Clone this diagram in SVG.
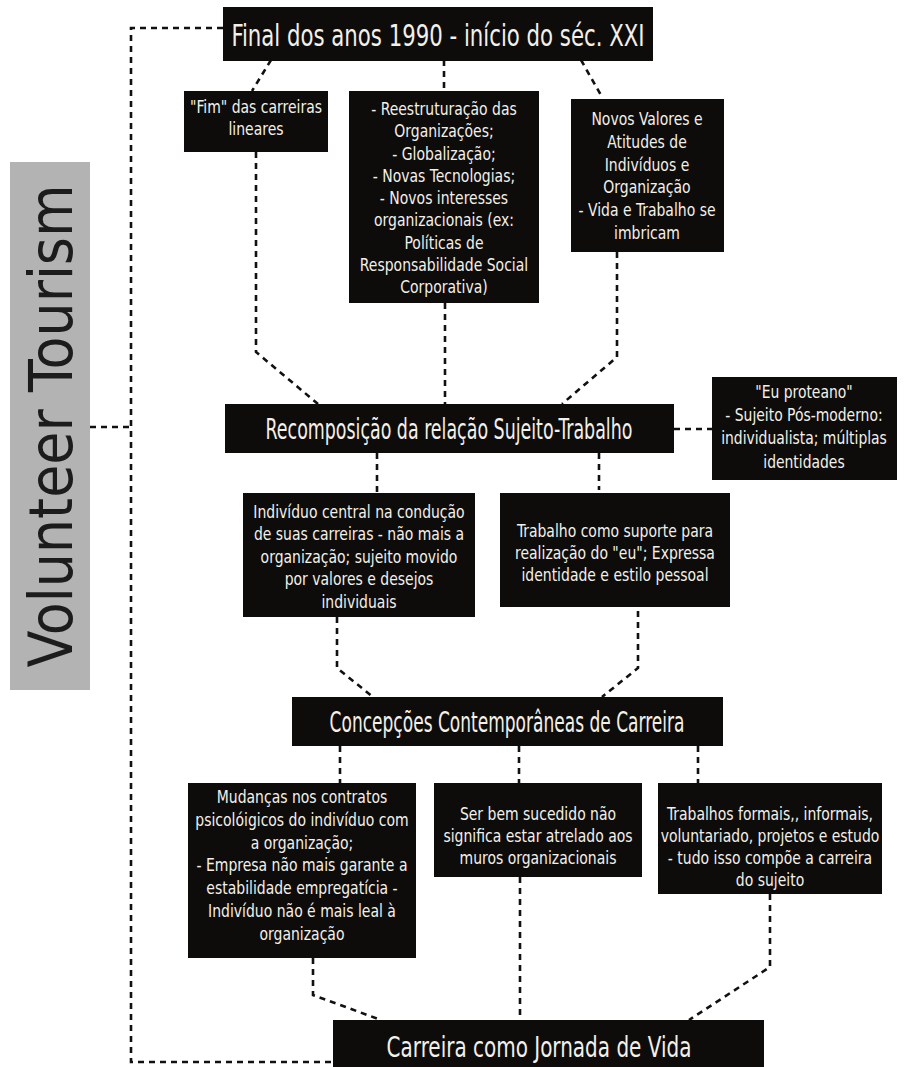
<svg xmlns="http://www.w3.org/2000/svg" width="911" height="1067" viewBox="0 0 911 1067">
<style>
.box{fill:#0e0c0b}
.t{font-family:"DejaVu Sans Condensed","Liberation Sans Narrow","Liberation Sans",sans-serif;font-stretch:condensed;font-size:18.5px;fill:#f3f0ea;text-anchor:middle}
.big{font-size:28px}
.con{fill:none;stroke:#111;stroke-width:2.6;stroke-dasharray:6 5}
</style>
<rect width="911" height="1067" fill="#ffffff"/>
<g id="connectors">
<path class="con" d="M223 28 H131 V1062 H333"/>
<path class="con" d="M90 427 H131"/>
<path class="con" d="M271 60 L252 91"/>
<path class="con" d="M444 60 V91"/>
<path class="con" d="M581 60 L602 97"/>
<path class="con" d="M256 152 V352 L318 404"/>
<path class="con" d="M445 303 V404"/>
<path class="con" d="M617 252 V357 L562 404"/>
<path class="con" d="M674 429 H712"/>
<path class="con" d="M377 453 V493"/>
<path class="con" d="M599 453 V490"/>
<path class="con" d="M337 617 V668 L373 697"/>
<path class="con" d="M638 611 V668 L602 697"/>
<path class="con" d="M340 746 V783"/>
<path class="con" d="M519 746 V783"/>
<path class="con" d="M698 746 V783"/>
<path class="con" d="M313 958 V995 L381 1020"/>
<path class="con" d="M520 877 V1020"/>
<path class="con" d="M770 894 V967 L689 1020"/>
</g>
<g id="volunteer">
<rect x="10" y="162" width="80" height="528" fill="#b3b3b3"/>
<text transform="translate(72 426) rotate(-90)" text-anchor="middle" font-family="DejaVu Sans Condensed,sans-serif" font-weight="300" font-size="60" fill="#1c1c1c" textLength="483" lengthAdjust="spacingAndGlyphs">Volunteer Tourism</text>
</g>
<g id="title">
<rect class="box" x="223" y="7" width="430" height="54"/>
<text class="t" x="438" y="46" style="font-size:30px" transform="matrix(0.73 0 0 1 118.26 0)" textLength="566" lengthAdjust="spacingAndGlyphs">Final dos anos 1990 - início do séc. XXI</text>
</g>
<g id="fim">
<rect class="box" x="184" y="91" width="144" height="61"/>
<text class="t" x="256" y="113" transform="matrix(0.84 0 0 1 40.96 0)"><tspan x="256">"Fim" das carreiras</tspan><tspan x="256" dy="22">lineares</tspan></text>
</g>
<g id="reestruturacao">
<rect class="box" x="349" y="91" width="190" height="212"/>
<text class="t" x="444" y="115" transform="matrix(0.84 0 0 1 71.04 0)"><tspan x="444">- Reestruturação das</tspan><tspan x="444" dy="22.3">Organizações;</tspan><tspan x="444" dy="22.3">- Globalização;</tspan><tspan x="444" dy="22.3">- Novas Tecnologias;</tspan><tspan x="444" dy="22.3">- Novos interesses</tspan><tspan x="444" dy="22.3">organizacionais (ex:</tspan><tspan x="444" dy="22.3">Políticas de</tspan><tspan x="444" dy="22.3">Responsabilidade Social</tspan><tspan x="444" dy="22.3">Corporativa)</tspan></text>
</g>
<g id="novos-valores">
<rect class="box" x="571" y="99" width="153" height="153"/>
<text class="t" x="647" y="125" transform="matrix(0.84 0 0 1 103.52 0)"><tspan x="647">Novos Valores e</tspan><tspan x="647" dy="22.8">Atitudes de</tspan><tspan x="647" dy="22.8">Indivíduos e</tspan><tspan x="647" dy="22.8">Organização</tspan><tspan x="647" dy="22.8">- Vida e Trabalho se</tspan><tspan x="647" dy="22.8">imbricam</tspan></text>
</g>
<g id="recomposicao">
<rect class="box" x="225" y="404" width="449" height="49"/>
<text class="t big" x="449" y="439" transform="matrix(0.7 0 0 1 134.7 0)" textLength="524" lengthAdjust="spacingAndGlyphs">Recomposição da relação Sujeito-Trabalho</text>
</g>
<g id="eu-proteano">
<rect class="box" x="712" y="377" width="185" height="103"/>
<text class="t" x="804" y="398" style="font-size:18px" transform="matrix(0.86 0 0 1 112.56 0)"><tspan x="804">"Eu proteano"</tspan><tspan x="804" dy="23.2">- Sujeito Pós-moderno:</tspan><tspan x="804" dy="23.2">individualista; múltiplas</tspan><tspan x="804" dy="23.2">identidades</tspan></text>
</g>
<g id="individuo-central">
<rect class="box" x="243" y="493" width="232" height="124"/>
<text class="t" x="359" y="518" transform="matrix(0.84 0 0 1 57.44 0)"><tspan x="359">Indivíduo central na condução</tspan><tspan x="359" dy="22.5">de suas carreiras - não mais a</tspan><tspan x="359" dy="22.5">organização; sujeito movido</tspan><tspan x="359" dy="22.5">por valores e desejos</tspan><tspan x="359" dy="22.5">individuais</tspan></text>
</g>
<g id="trabalho-suporte">
<rect class="box" x="500" y="493" width="230" height="114"/>
<text class="t" x="615" y="537" transform="matrix(0.84 0 0 1 98.4 0)"><tspan x="615">Trabalho como suporte para</tspan><tspan x="615" dy="22">realização do "eu"; Expressa</tspan><tspan x="615" dy="22">identidade e estilo pessoal</tspan></text>
</g>
<g id="concepcoes">
<rect class="box" x="292" y="697" width="431" height="49"/>
<text class="t big" x="507" y="732" transform="matrix(0.73 0 0 1 136.89 0)" textLength="486" lengthAdjust="spacingAndGlyphs">Concepções Contemporâneas de Carreira</text>
</g>
<g id="mudancas">
<rect class="box" x="188" y="783" width="228" height="175"/>
<text class="t" x="302" y="803" transform="matrix(0.84 0 0 1 48.32 0)"><tspan x="302">Mudanças nos contratos</tspan><tspan x="302" dy="22.8">psicolóigicos do indivíduo com</tspan><tspan x="302" dy="22.8">a organização;</tspan><tspan x="302" dy="22.8">- Empresa não mais garante a</tspan><tspan x="302" dy="22.8">estabilidade empregatícia -</tspan><tspan x="302" dy="22.8">Indivíduo não é mais leal à</tspan><tspan x="302" dy="22.8">organização</tspan></text>
</g>
<g id="ser-bem-sucedido">
<rect class="box" x="434" y="783" width="208" height="94"/>
<text class="t" x="538" y="820" transform="matrix(0.84 0 0 1 86.08 0)"><tspan x="538">Ser bem sucedido não</tspan><tspan x="538" dy="22">significa estar atrelado aos</tspan><tspan x="538" dy="22">muros organizacionais</tspan></text>
</g>
<g id="trabalhos-formais">
<rect class="box" x="658" y="783" width="224" height="111"/>
<text class="t" x="770" y="820" transform="matrix(0.84 0 0 1 123.2 0)"><tspan x="770">Trabalhos formais,, informais,</tspan><tspan x="770" dy="22">voluntariado, projetos e estudo</tspan><tspan x="770" dy="22">- tudo isso compõe a carreira</tspan><tspan x="770" dy="22">do sujeito</tspan></text>
</g>
<g id="carreira-jornada">
<rect class="box" x="333" y="1020" width="431" height="47"/>
<text class="t big" x="539" y="1057" transform="matrix(0.8 0 0 1 107.8 0)" textLength="381" lengthAdjust="spacingAndGlyphs">Carreira como Jornada de Vida</text>
</g>
</svg>
